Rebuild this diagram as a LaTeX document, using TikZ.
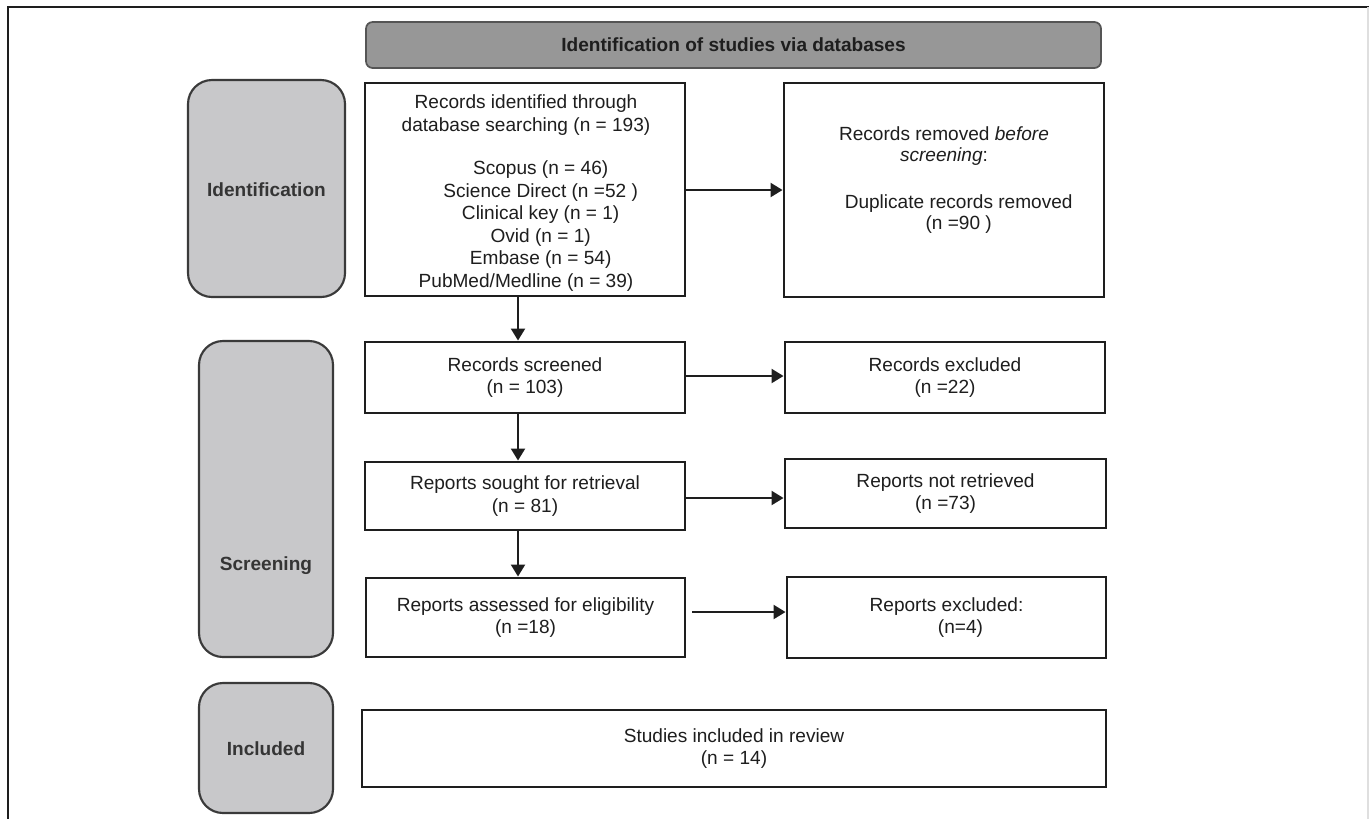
\documentclass[tikz,border=0pt]{standalone}
\usepackage{fontspec}
\setmainfont{Liberation Sans}
\usetikzlibrary{arrows.meta}
\definecolor{ink}{HTML}{1E1E1E}
\definecolor{hdrfill}{HTML}{979797}
\definecolor{hdrline}{HTML}{555555}
\definecolor{lblfill}{HTML}{C8C8CA}
\definecolor{lblline}{HTML}{3A3A3A}
\tikzset{
  boxnode/.style={draw=ink, line width=2.2pt, fill=white, align=center, inner sep=0pt, text=ink,
    font=\fontsize{14.3pt}{17pt}\selectfont},
  hdrnode/.style={draw=hdrline, line width=1.3pt, fill=hdrfill, rounded corners=5pt, inner sep=0pt, text=ink,
    font=\fontsize{14.3pt}{16.5pt}\selectfont\bfseries},
  lblnode/.style={draw=lblline, line width=1.6pt, fill=lblfill, rounded corners=18pt, inner sep=0pt},
  lbltext/.style={text=ink!90, inner sep=0pt, font=\fontsize{14.3pt}{16.5pt}\selectfont\bfseries},
  arr/.style={draw=ink, line width=1.7pt, -{Triangle[length=9pt,width=10.5pt]}},
}
\begin{document}
\begin{tikzpicture}[x=0.75pt,y=-0.75pt]
\useasboundingbox (0,0) rectangle (1369,818);
% outer frame
\draw[ink, line width=1.3pt] (8,830) -- (8,7) -- (1369,7);
\draw[gray!25, line width=1pt] (1368,7) -- (1368,830);

% header
\node[hdrnode, minimum width=551.25pt, minimum height=34.5pt] (hdr) at (733.5,45) {Identification of studies via databases};

% phase labels
\node[lblnode, minimum width=117.75pt, minimum height=162.75pt] (lid) at (266.5,188.5) {};
\node[lbltext] (lidt) at (266.5,190) {Identification};
\node[lblnode, minimum width=100.5pt, minimum height=237pt] (lsc) at (266,499) {};
\node[lbltext] (lsct) at (266,566) {Screening};
\node[lblnode, minimum width=100.5pt, minimum height=97.5pt] (lin) at (266,748) {};
\node[lbltext] (lint) at (266,749) {Included};

% main boxes
\node[boxnode, minimum width=240pt, minimum height=159.75pt] (b1) at (525,189.5) {};
\node[text=ink, align=center, inner sep=0pt, font=\fontsize{14.3pt}{16.9pt}\selectfont] (b1t) at (526,193) {Records identified through\\
database searching (n = 193)\\[15.5pt]
\hspace*{22pt}Scopus (n = 46)\\
\hspace*{22pt}Science Direct (n =52 )\\
\hspace*{22pt}Clinical key (n = 1)\\
\hspace*{22pt}Ovid (n = 1)\\
\hspace*{22pt}Embase (n = 54)\\
PubMed/Medline (n = 39)};

\node[boxnode, minimum width=240pt, minimum height=160.5pt] (rm) at (944,190) {};
\node[text=ink, align=center, inner sep=0pt, font=\fontsize{14.3pt}{15.6pt}\selectfont] (rmt) at (944,180) {Records removed \textit{before}\\
\textit{screening}:\\[19.5pt]
\hspace*{22pt}Duplicate records removed\\
\hspace*{22pt}(n =90 )};

\node[boxnode, minimum width=240pt, minimum height=53.25pt] (scr) at (525,377.5) {Records screened\\(n = 103)};
\node[boxnode, minimum width=240pt, minimum height=53.25pt] (exc) at (945,377.5) {Records excluded\\(n =22)};

\node[boxnode, minimum width=240pt, minimum height=51pt] (sou) at (525,496) {Reports sought for retrieval\\(n = 81)};
\node[boxnode, minimum width=240.75pt, minimum height=51.75pt] (nre) at (945.5,493.5) {Reports not retrieved\\(n =73)};

\node[boxnode, minimum width=239.25pt, minimum height=59.25pt] (ass) at (525.5,617.5) {Reports assessed for eligibility\\(n =18)};
\node[boxnode, minimum width=239.25pt, minimum height=60.75pt] (rex) at (946.5,617.5) {Reports excluded:\\\hspace*{21pt}(n=4)};

\node[boxnode, minimum width=558pt, minimum height=57.75pt] (inc) at (734,748.5) {Studies included in review\\(n = 14)};

% helper coordinates
\coordinate (xv) at (518,0);
\coordinate (y1) at (0,190);
\coordinate (y2) at (0,376);
\coordinate (y3) at (0,498);
\coordinate (y4) at (0,612);

% connectors
\draw[arr] (b1.south -| xv) -- (scr.north -| xv);
\draw[arr] (scr.south -| xv) -- (sou.north -| xv);
\draw[arr] (sou.south -| xv) -- (ass.north -| xv);
\draw[arr] (b1.east |- y1) -- (rm.west |- y1);
\draw[arr] (scr.east |- y2) -- (exc.west |- y2);
\draw[arr] (sou.east |- y3) -- (nre.west |- y3);
\draw[arr] ([xshift=4.5pt]ass.east |- y4) -- (rex.west |- y4);
\end{tikzpicture}
\end{document}
